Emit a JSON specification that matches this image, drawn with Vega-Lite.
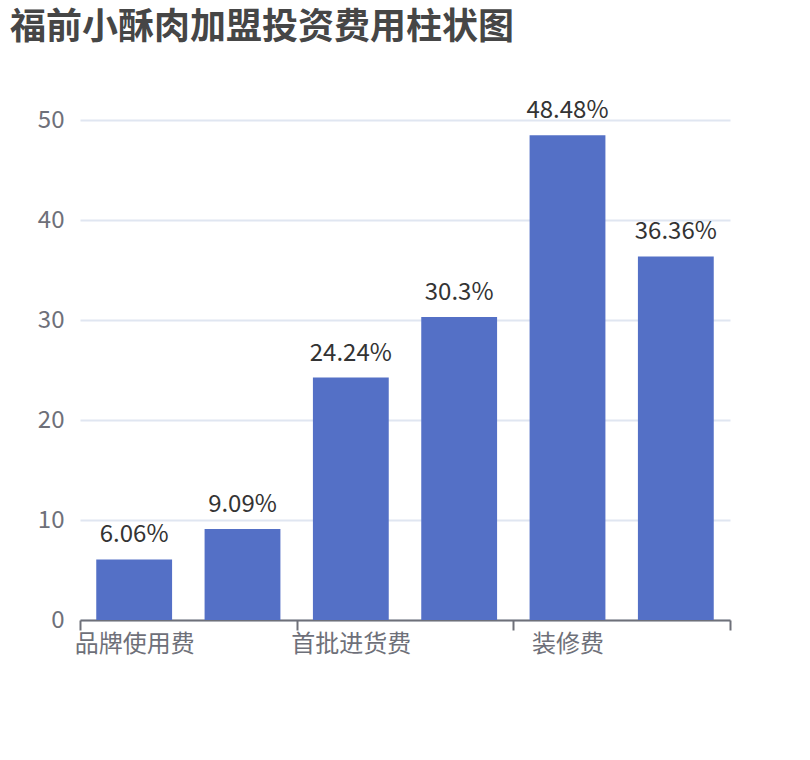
{
  "$schema": "https://vega.github.io/schema/vega-lite/v6.json",
  "description": "福前小酥肉加盟投资费用柱状图",
  "autosize": "none",
  "width": 650,
  "height": 500,
  "padding": {"left": 80, "top": 120, "right": 80, "bottom": 140},
  "background": "white",
  "config": {
    "view": {"stroke": null},
    "font": "Noto Sans CJK SC"
  },
  "title": {
    "text": "福前小酥肉加盟投资费用柱状图",
    "anchor": "start",
    "frame": "group",
    "orient": "top",
    "baseline": "alphabetic",
    "offset": 24,
    "dx": -70,
    "fontSize": 36,
    "fontWeight": "bold",
    "color": "#464646",
    "font": "Noto Sans CJK SC"
  },
  "data": {
    "values": [
      {"item": "品牌使用费", "pct": 6.06},
      {"item": "加盟保证金", "pct": 9.09},
      {"item": "首批进货费", "pct": 24.24},
      {"item": "设备采购费", "pct": 30.3},
      {"item": "装修费", "pct": 48.48},
      {"item": "店面租金", "pct": 36.36}
    ]
  },
  "transform": [{"calculate": "datum.pct + '%'", "as": "label"}],
  "encoding": {
    "x": {
      "field": "item",
      "type": "nominal",
      "sort": null,
      "scale": {"paddingInner": 0.3, "paddingOuter": 0.15},
      "axis": {
        "title": null,
        "labelAngle": 0,
        "labelFontSize": 24,
        "labelColor": "#6E7079",
        "labelPadding": 2,
        "labelOffset": 16.25,
        "labelExpr": "indexof(['品牌使用费','首批进货费','装修费'], datum.value) >= 0 ? datum.value : ''",
        "domainColor": "#6E7079",
        "domainWidth": 2,
        "bandPosition": 1.428571,
        "tickExtra": true,
        "tickOffset": -16.25,
        "tickSize": 10,
        "tickWidth": 2,
        "tickColor": "#6E7079",
        "tickOpacity": {
          "condition": {"test": "datum.extra || indexof(['加盟保证金','设备采购费','店面租金'], datum.value) >= 0", "value": 1},
          "value": 0
        },
        "grid": false
      }
    },
    "y": {
      "field": "pct",
      "type": "quantitative",
      "scale": {"domain": [0, 50]},
      "axis": {
        "title": null,
        "values": [0, 10, 20, 30, 40, 50],
        "labelFontSize": 24,
        "labelColor": "#6E7079",
        "labelPadding": 16,
        "domain": false,
        "ticks": false,
        "gridColor": "#E0E6F1",
        "gridWidth": 2
      }
    }
  },
  "layer": [
    {"mark": {"type": "bar", "color": "#5470C6"}},
    {
      "mark": {
        "type": "text",
        "baseline": "alphabetic",
        "dy": -17,
        "fontSize": 24,
        "color": "#333333"
      },
      "encoding": {"text": {"field": "label"}}
    }
  ]
}
